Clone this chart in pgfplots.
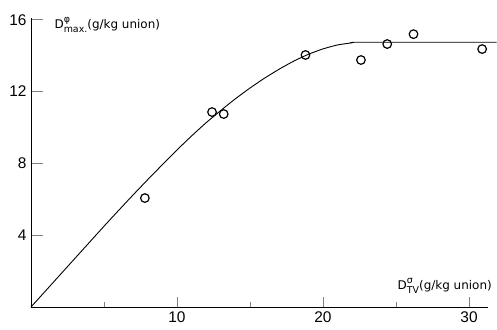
\documentclass[border=0pt]{standalone}
\usepackage{pgfplots}
\pgfplotsset{compat=1.18}
\usepackage{fontspec}
\setmainfont{DejaVu Sans}
\newfontfamily\ticksfont{Liberation Sans}
\usepackage{graphicx}

% measured maximum dose against dose at the test volume
\pgfplotstableread{
x     y
7.8   6.07
12.4  10.86
13.2  10.75
18.8  14.04
22.6  13.76
24.4  14.65
26.2  15.20
30.9  14.37
}\measured

% fitted curve, linear rise then saturation
\pgfplotstableread{
x     y
0     0
1     0.90
2     1.80
3     2.70
4     3.60
5     4.50
6     5.38
7     6.25
8     7.10
9     7.93
10    8.75
11    9.53
12    10.27
13    10.95
14    11.60
15    12.20
16    12.75
17    13.25
18    13.70
19    14.08
20    14.38
21    14.60
22    14.72
22.5  14.75
31.9  14.75
}\fitted

\begin{document}
\begin{tikzpicture}
\begin{axis}[
  x=14.6bp, y=17.95bp,
  xmin=0, xmax=31.3, ymin=0, ymax=16.1,
  axis x line=bottom, axis y line=left,
  axis line style={-, line width=0.9pt},
  clip=false,
  xtick={10,20,30}, minor xtick={5,15,25},
  ytick={4,8,12,16},
  tick align=inside,
  xtick style={line width=0.9pt, /pgfplots/major tick length=10bp, /pgfplots/minor tick length=5bp},
  ytick style={line width=0.9pt, /pgfplots/major tick length=12bp},
  ticklabel style={font=\ticksfont\fontsize{15.5}{15.5}\selectfont},
  xticklabel style={yshift=-1bp},
  yticklabel style={xshift=-1bp},
  /pgf/number format/assume math mode=true,
]
\addplot[black, line width=0.9pt, smooth, tension=0.3] table {\fitted};
\addplot[only marks, mark=o, mark size=4.3bp, mark options={line width=1.2pt}, black] table {\measured};
\coordinate (O) at (axis cs:0,0);
\node[anchor=base west, inner sep=0pt, font=\fontsize{12}{12}\selectfont] at (axis cs:1.6,15.5)
  {D\rlap{\raisebox{1.0ex}{\fontsize{9.5}{9.5}\selectfont φ}}\raisebox{-0.6ex}{\fontsize{9.5}{9.5}\selectfont max.}(g/kg union)};
\node[anchor=base west, inner sep=0pt, font=\fontsize{12}{12}\selectfont] at (axis cs:25.1,0.95)
  {D\rlap{\raisebox{1.0ex}{\fontsize{9.5}{9.5}\selectfont σ}}\raisebox{-0.6ex}{\fontsize{9.5}{9.5}\selectfont TV}(g/kg union)};
\end{axis}
\pgfresetboundingbox
\path[use as bounding box] (O) ++(-31bp,-23bp) rectangle ++(497bp,330bp);
\end{tikzpicture}
\end{document}
